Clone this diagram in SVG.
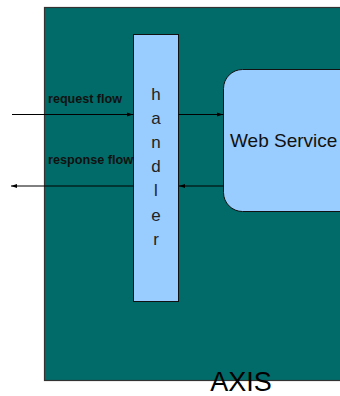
<svg xmlns="http://www.w3.org/2000/svg" width="340" height="396" viewBox="0 0 340 396">
<style>
.box{fill:#99ccff;stroke:#111;stroke-width:1}
.ln{stroke:#000;stroke-width:1;fill:none}
.lbl{font-family:"Liberation Sans",Arial,sans-serif;font-weight:bold;font-size:12px;fill:#111}
.hl{font-family:"Liberation Sans",Arial,sans-serif;font-size:17px;fill:#222;text-anchor:middle}
</style>
<defs>
<marker id="ah" viewBox="0 0 6 6" refX="6" refY="3" markerWidth="6" markerHeight="6" markerUnits="userSpaceOnUse" orient="auto">
<path d="M0,1 L6,3 L0,5 Z" fill="#000"/>
</marker>
</defs>
<rect width="340" height="396" fill="#fff"/>
<g id="axis">
<rect x="44.5" y="7.5" width="300" height="373" fill="#006b68" stroke="#333" stroke-width="1.2"/>
<text x="241" y="391" font-family="'Liberation Sans',Arial,sans-serif" font-size="27" fill="#000" text-anchor="middle">AXIS</text>
</g>
<g id="handler">
<rect class="box" x="133.5" y="34.5" width="45" height="267"/>
<text class="hl" x="156" y="100">h</text>
<text class="hl" x="156" y="124">a</text>
<text class="hl" x="156" y="148">n</text>
<text class="hl" x="156" y="172">d</text>
<text class="hl" x="156" y="196">l</text>
<text class="hl" x="156" y="221">e</text>
<text class="hl" x="156" y="245">r</text>
</g>
<g id="webservice">
<rect class="box" x="223.5" y="69.5" width="140" height="142" rx="19" ry="19"/>
<text x="230" y="147" font-family="'Liberation Sans',Arial,sans-serif" font-size="19" fill="#111">Web Service</text>
</g>
<g id="connectors">
<line class="ln" x1="12" y1="114.5" x2="133" y2="114.5" marker-end="url(#ah)"/>
<line class="ln" x1="178.5" y1="114.5" x2="223" y2="114.5" marker-end="url(#ah)"/>
<line class="ln" x1="223" y1="186" x2="179" y2="186" marker-end="url(#ah)"/>
<line class="ln" x1="133" y1="186" x2="11" y2="186" marker-end="url(#ah)"/>
<text class="lbl" x="48" y="102.5" textLength="74" lengthAdjust="spacingAndGlyphs">request flow</text>
<text class="lbl" x="48" y="164" textLength="85" lengthAdjust="spacingAndGlyphs">response flow</text>
</g>
</svg>
